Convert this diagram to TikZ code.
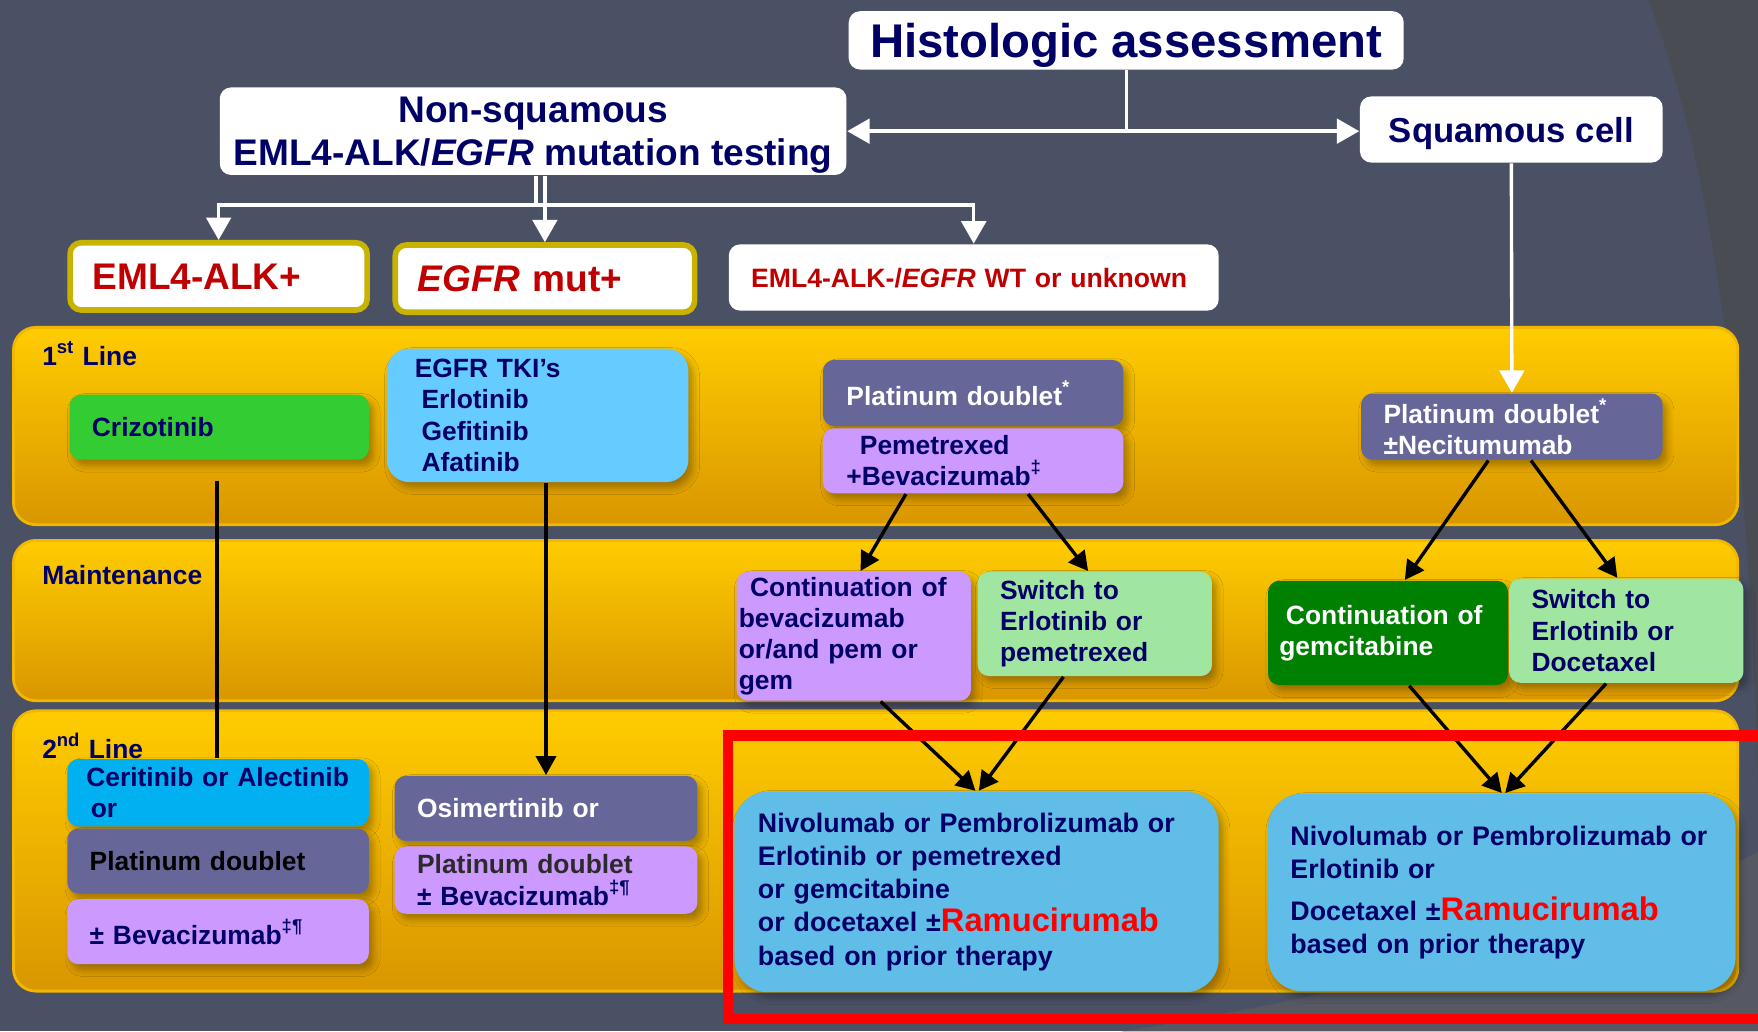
\documentclass[tikz,border=0pt]{standalone}
\usepackage{fontspec}
\setmainfont{Liberation Sans}
\usetikzlibrary{arrows.meta,calc,shadows.blur}
\definecolor{bg}{HTML}{4B5165}
\definecolor{bgarc}{HTML}{4A4C53}
\definecolor{bglite}{HTML}{565963}
\definecolor{navy}{HTML}{000066}
\definecolor{darkred}{HTML}{C00000}
\definecolor{goldrim}{HTML}{C8B400}
\definecolor{bandtop}{HTML}{FFCC00}
\definecolor{bandbot}{HTML}{D99600}
\definecolor{bandrim}{HTML}{F2B800}
\definecolor{limeg}{HTML}{33CC33}
\definecolor{skyb}{HTML}{66CCFF}
\definecolor{slate}{HTML}{666699}
\definecolor{lilac}{HTML}{CC99FF}
\definecolor{mint}{HTML}{A0E6A0}
\definecolor{forest}{HTML}{008000}
\definecolor{cyanb}{HTML}{00B0F0}
\definecolor{paleb}{HTML}{5FBDE8}
\definecolor{platgray}{HTML}{2B2B2B}
\newcommand\fsz[2]{\fontsize{#1}{#2}\selectfont}
\newcommand\ramu{{\color{red}\fsz{8.3}{8.4}\bfseries Ramucirumab}}

\begin{document}
\begin{tikzpicture}[x=0.1mm, y=-0.1mm,
  band/.style={rounded corners=2mm, top color=bandtop, bottom color=bandbot, draw=bandrim, line width=0.25mm},
  bandlab/.style={anchor=west, inner sep=0pt, text=navy, font=\fsz{6.7}{8}\bfseries},
  head/.style={fill=white, rounded corners=1mm, inner sep=0pt, text depth=0pt, text=navy, align=center},
  pick/.style={fill=white, draw=goldrim, line width=0.5mm, rounded corners=1mm, inner ysep=0pt, inner xsep=2mm,
               text=darkred, align=left, font=\fsz{9.4}{11}\bfseries},
  drug/.style={rounded corners=1mm, inner ysep=0pt, inner xsep=2mm, text=navy, align=left, font=\fsz{6.7}{7.9}\bfseries,
               blur shadow={shadow xshift=0.4mm, shadow yshift=-0.5mm, shadow blur radius=0.6mm, shadow opacity=30}},
  wline/.style={draw=white, line width=0.3mm},
  warr/.style={wline, -{Triangle[width=2.2mm, length=2mm]}},
  bline/.style={draw=black, line width=0.3mm},
  barr/.style={bline, -{Triangle[width=1.8mm, length=1.7mm]}},
  redbox/.style={draw=red, line width=0.9mm}]
  \useasboundingbox (0,0) rectangle (1568,920);
  \clip (0,0) rectangle (1568,920);
  % background of the slide
  \fill[bg] (0,0) rectangle (1568,920);
  \fill[bgarc] (1470,0) .. controls (1530,150) and (1560,400) .. (1568,700) -- (1568,0) -- cycle;
  \fill[bglite] (1000,920) .. controls (1250,880) and (1450,820) .. (1568,760) -- (1568,920) -- cycle;

  % the three lines of therapy
  \foreach \ya/\yb in {292/468, 482/625, 634/884}
    \draw[band] (12,\ya) rectangle (1550,\yb);
  \node[bandlab] (line1) at (37,315) {1\textsuperscript{st} Line};
  \node[bandlab] (maint) at (37,513) {Maintenance};
  \node[bandlab] (line2) at (37,665) {2\textsuperscript{nd} Line};

  % histology and testing
  \node[head, minimum width=49.5mm, minimum height=5.2mm, font=\fsz{12}{14}\bfseries] (hist) at (1004.5,36) {Histologic assessment};
  \node[head, minimum width=55.9mm, minimum height=7.8mm, font=\fsz{9.4}{10.8}\bfseries] (nonsq) at (475.5,117)
       {Non-squamous\\EML4-ALK/\textit{EGFR} mutation testing};
  \node[head, minimum width=27mm, minimum height=5.9mm, font=\fsz{8.8}{10}\bfseries] (squam) at (1348,115.5) {Squamous cell};

  \node[pick, minimum width=26.5mm, minimum height=6mm, text width=22.5mm] (alkpos) at (195,246.5) {EML4-ALK+};
  \node[pick, minimum width=26.7mm, minimum height=6mm, text width=22.7mm] (egfrpos) at (486,248.5) {\textit{EGFR} mut+};
  \node[head, minimum width=43.7mm, minimum height=5.9mm, inner xsep=2mm, text width=39.7mm, align=left, text=darkred,
        font=\fsz{6.75}{8}\bfseries] (wtunk) at (868.5,247.5) {EML4-ALK-/\textit{EGFR} WT or unknown};

  % 1st line
  \node[drug, fill=limeg, minimum width=26.7mm, minimum height=5.8mm, text width=22.7mm] (crizo) at (195.5,381) {Crizotinib};
  \node[drug, fill=skyb, rounded corners=2mm, minimum width=26.9mm, minimum height=11.9mm, inner xsep=2.5mm, text width=21.9mm]
       (tki) at (479.5,370.5) {EGFR TKI’s\\\hspace*{0.6mm}Erlotinib\\\hspace*{0.6mm}Gefitinib\\\hspace*{0.6mm}Afatinib};
  \node[drug, fill=slate, text=white, minimum width=26.8mm, minimum height=5.9mm, inner xsep=2.1mm, text width=22.6mm]
       (platd) at (868,350.5) {Platinum doublet\textsuperscript{*}};
  \node[drug, fill=lilac, minimum width=26.8mm, minimum height=5.8mm, inner xsep=2.1mm, text width=22.6mm]
       (pemb) at (868,411) {\hspace*{1.2mm}Pemetrexed\\+Bevacizumab\textsuperscript{‡}};
  \node[drug, fill=slate, text=white, minimum width=26.9mm, minimum height=5.9mm, text width=22.9mm]
       (neci) at (1348.5,380.5) {Platinum doublet\textsuperscript{*}\\±Necitumumab};

  % maintenance
  \node[drug, fill=lilac, minimum width=20.9mm, minimum height=11.5mm, inner xsep=0.2mm, text width=20.5mm]
       (contb) at (761.5,567.5) {\hspace*{1mm}Continuation of\\bevacizumab\\or/and pem or\\gem};
  \node[drug, fill=mint, minimum width=20.9mm, minimum height=9.3mm, text width=16.9mm]
       (swpe) at (976.5,556.5) {Switch to\\Erlotinib or\\pemetrexed};
  \node[drug, fill=forest, text=white, minimum width=21.4mm, minimum height=9.3mm, inner xsep=1mm, text width=19.4mm]
       (contg) at (1238,564.5) {\hspace*{0.6mm}Continuation of\\gemcitabine};
  \node[drug, fill=mint, minimum width=20.9mm, minimum height=9.3mm, text width=16.9mm]
       (swdo) at (1450.5,562.5) {Switch to\\Erlotinib or\\Docetaxel};

  % 2nd line
  \node[drug, fill=cyanb, minimum width=26.9mm, minimum height=6mm, inner xsep=1.7mm, text width=23.5mm]
       (cerit) at (194.5,707) {Ceritinib or Alectinib\\\hspace*{0.4mm}or};
  \node[drug, fill=slate, text=black, minimum width=26.9mm, minimum height=5.8mm, text width=22.9mm]
       (platl) at (194.5,768) {Platinum doublet};
  \node[drug, fill=lilac, minimum width=26.9mm, minimum height=5.8mm, text width=22.9mm]
       (bevl) at (194.5,831) {± Bevacizumab\textsuperscript{‡¶}};
  \node[drug, fill=slate, text=white, minimum width=27mm, minimum height=5.8mm, text width=23mm]
       (osim) at (487,721) {Osimertinib or};
  \node[drug, fill=lilac, minimum width=27mm, minimum height=6mm, text width=23mm]
       (platr) at (487,785) {{\color{platgray}Platinum doublet}\\± Bevacizumab\textsuperscript{‡¶}};
  \node[drug, fill=paleb, rounded corners=3mm, minimum width=43.2mm, minimum height=17.9mm, inner xsep=2.1mm, text width=39mm,
        font=\fsz{6.8}{8.4}\bfseries] (nivo1) at (871,795.5)
       {Nivolumab or Pembrolizumab or\\Erlotinib or pemetrexed\\or gemcitabine\\
        or docetaxel ±\ramu\\based on prior therapy};
  \node[drug, fill=paleb, rounded corners=3mm, minimum width=41.7mm, minimum height=17.6mm, inner xsep=2mm, text width=37.7mm,
        font=\fsz{6.8}{8.4}\bfseries] (nivo2) at (1339.5,796)
       {Nivolumab or Pembrolizumab or\\Erlotinib or\\[0.8mm]Docetaxel ±\ramu\\based on prior therapy};

  % white connectors
  \coordinate (fork) at (486,183);
  \draw[wline] (hist.south) -- (hist.south |- nonsq.east);
  \draw[warr] (hist.south |- nonsq.east) -- (nonsq.east);
  \draw[warr] (hist.south |- nonsq.east) -- (squam.west |- nonsq.east);
  \draw[warr] (egfrpos.north |- nonsq.south) -- (egfrpos.north);
  \draw[wline] ($(egfrpos.north |- nonsq.south)+(-8,0)$) -- ($(fork)+(-8,0)$);
  \draw[warr] (fork) -| (alkpos.north);
  \draw[warr] (fork) -| (wtunk.north);
  \draw[warr] (squam.south) -- (neci.north);

  % black connectors
  \draw[bline, shorten <=1.8mm] ($(crizo.south)+(-2,0)$) -- ($(cerit.north)+(-1,0)$);
  \draw[barr] (osim.north |- tki.south) -- (osim.north);
  \draw[barr] ($(pemb.south)+(-60,0)$) -- ($(contb.north)+(6,0)$);
  \draw[barr] ($(pemb.south)+(49,0)$) -- ($(swpe.north)+(-6,0)$);
  \draw[barr] ($(neci.south)+(-21,0)$) -- ($(contg.north)+(15,0)$);
  \draw[barr] ($(neci.south)+(17,0)$) -- ($(swdo.north)+(-8,0)$);
  \draw[barr] ($(contb.south)+(24,0)$) -- ($(nivo1.north)+(-1,0)$);
  \draw[barr] ($(swpe.south)+(-28,0)$) -- ($(nivo1.north)+(2,0)$);
  \draw[barr] ($(contg.south)+(19,0)$) -- ($(nivo2.north)+(0,0)$);
  \draw[barr] ($(swdo.south)+(-18,0)$) -- ($(nivo2.north)+(3,0)$);

  % highlight of the new 2nd-line options
  \draw[redbox] (1600,656) -- (649.5,656) -- (649.5,908.5) -- (1600,908.5);
\end{tikzpicture}
\end{document}
